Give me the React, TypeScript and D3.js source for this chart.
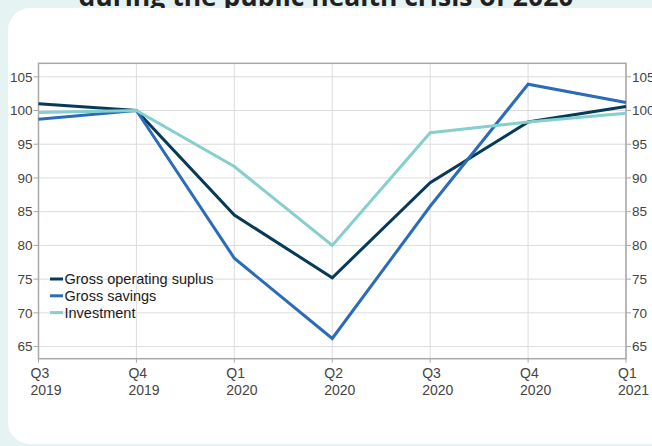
import React from "react";
import * as d3 from "d3";

const quarters = ["Q3", "Q4", "Q1", "Q2", "Q3", "Q4", "Q1"];
const years = ["2019", "2019", "2020", "2020", "2020", "2020", "2021"];
const grossOperatingSurplus = [101.0, 100.0, 84.5, 75.2, 89.3, 98.3, 100.6];
const grossSavings = [98.7, 100.0, 78.1, 66.2, 85.8, 103.9, 101.2];
const investment = [99.7, 100.0, 91.7, 80.0, 96.7, 98.3, 99.6];
const seriesNames = ["Gross operating suplus", "Gross savings", "Investment"];
const yTicks = [65, 70, 75, 80, 85, 90, 95, 100, 105];
const title = "during the public health crisis of 2020";

const colors = ["#063a58", "#2b6cb8", "#85cfcc"];

export default function App() {
  const W = 652;
  const H = 446;
  const left = 38.5;
  const right = 626;
  const top = 63.3;
  const bottom = 358.7;

  const x = d3.scalePoint<number>().domain(d3.range(quarters.length)).range([left, right]);
  const y = d3.scaleLinear().domain([63.2, 107]).range([bottom, top]);

  const series = [grossOperatingSurplus, grossSavings, investment];
  const line = d3
    .line<number>()
    .x((_, i) => x(i) as number)
    .y((d) => y(d));

  const font = "'Liberation Sans', Arial, sans-serif";

  return (
    <svg
      width={W}
      height={H}
      style={{ position: "absolute", left: 0, top: 0, display: "block" }}
      xmlns="http://www.w3.org/2000/svg"
    >
      <rect x={0} y={0} width={W} height={H} fill="#e5f3f2" />
      <text
        x={326}
        y={6}
        textAnchor="middle"
        fontFamily="'Open Sans', sans-serif"
        fontWeight={700}
        fontSize={26.5}
        fill="#231f20"
      >
        {title}
      </text>
      <rect x={8} y={8} width={W + 20} height={436} rx={22} ry={22} fill="#ffffff" />

      {/* grid */}
      {yTicks.map((t) => (
        <line key={"h" + t} x1={left} x2={right} y1={y(t)} y2={y(t)} stroke="#dcdcdc" strokeWidth={1} />
      ))}
      {quarters.map((_, i) => (
        <line key={"v" + i} x1={x(i)} x2={x(i)} y1={top} y2={bottom} stroke="#dcdcdc" strokeWidth={1} />
      ))}

      {/* frame */}
      <rect x={left} y={top} width={right - left} height={bottom - top} fill="none" stroke="#a9a9a9" strokeWidth={1.5} />

      {/* y ticks left and right */}
      {yTicks.map((t) => (
        <g key={"yt" + t}>
          <line x1={left - 5} x2={left} y1={y(t)} y2={y(t)} stroke="#a9a9a9" strokeWidth={1} />
          <text x={left - 6} y={y(t)} dy="0.35em" textAnchor="end" fontFamily={font} fontSize={13.5} fill="#444">
            {t}
          </text>
          <line x1={right} x2={right + 5} y1={y(t)} y2={y(t)} stroke="#a9a9a9" strokeWidth={1} />
          <text x={right + 6} y={y(t)} dy="0.35em" textAnchor="start" fontFamily={font} fontSize={13.5} fill="#444">
            {t}
          </text>
        </g>
      ))}

      {/* x ticks */}
      {quarters.map((q, i) => (
        <g key={"xt" + i}>
          <line x1={x(i)} x2={x(i)} y1={bottom} y2={bottom + 4} stroke="#a9a9a9" strokeWidth={1} />
          <text x={(x(i) as number) - 8} y={378} fontFamily={font} fontSize={14} fill="#444">
            {q}
          </text>
          <text x={(x(i) as number) - 8} y={394.5} fontFamily={font} fontSize={14} fill="#444">
            {years[i]}
          </text>
        </g>
      ))}

      {/* lines */}
      {series.map((s, k) => (
        <path
          key={"s" + k}
          d={line(s) || ""}
          fill="none"
          stroke={colors[k]}
          strokeWidth={3}
          strokeLinejoin="miter"
        />
      ))}

      {/* legend */}
      {seriesNames.map((n, k) => {
        const ly = 279 + k * 16.8;
        return (
          <g key={"lg" + k}>
            <line x1={50} x2={63} y1={ly} y2={ly} stroke={colors[k]} strokeWidth={3} />
            <text x={64.5} y={ly} dy="0.35em" fontFamily={font} fontSize={14.5} fill="#1a1a1a">
              {n}
            </text>
          </g>
        );
      })}
    </svg>
  );
}
